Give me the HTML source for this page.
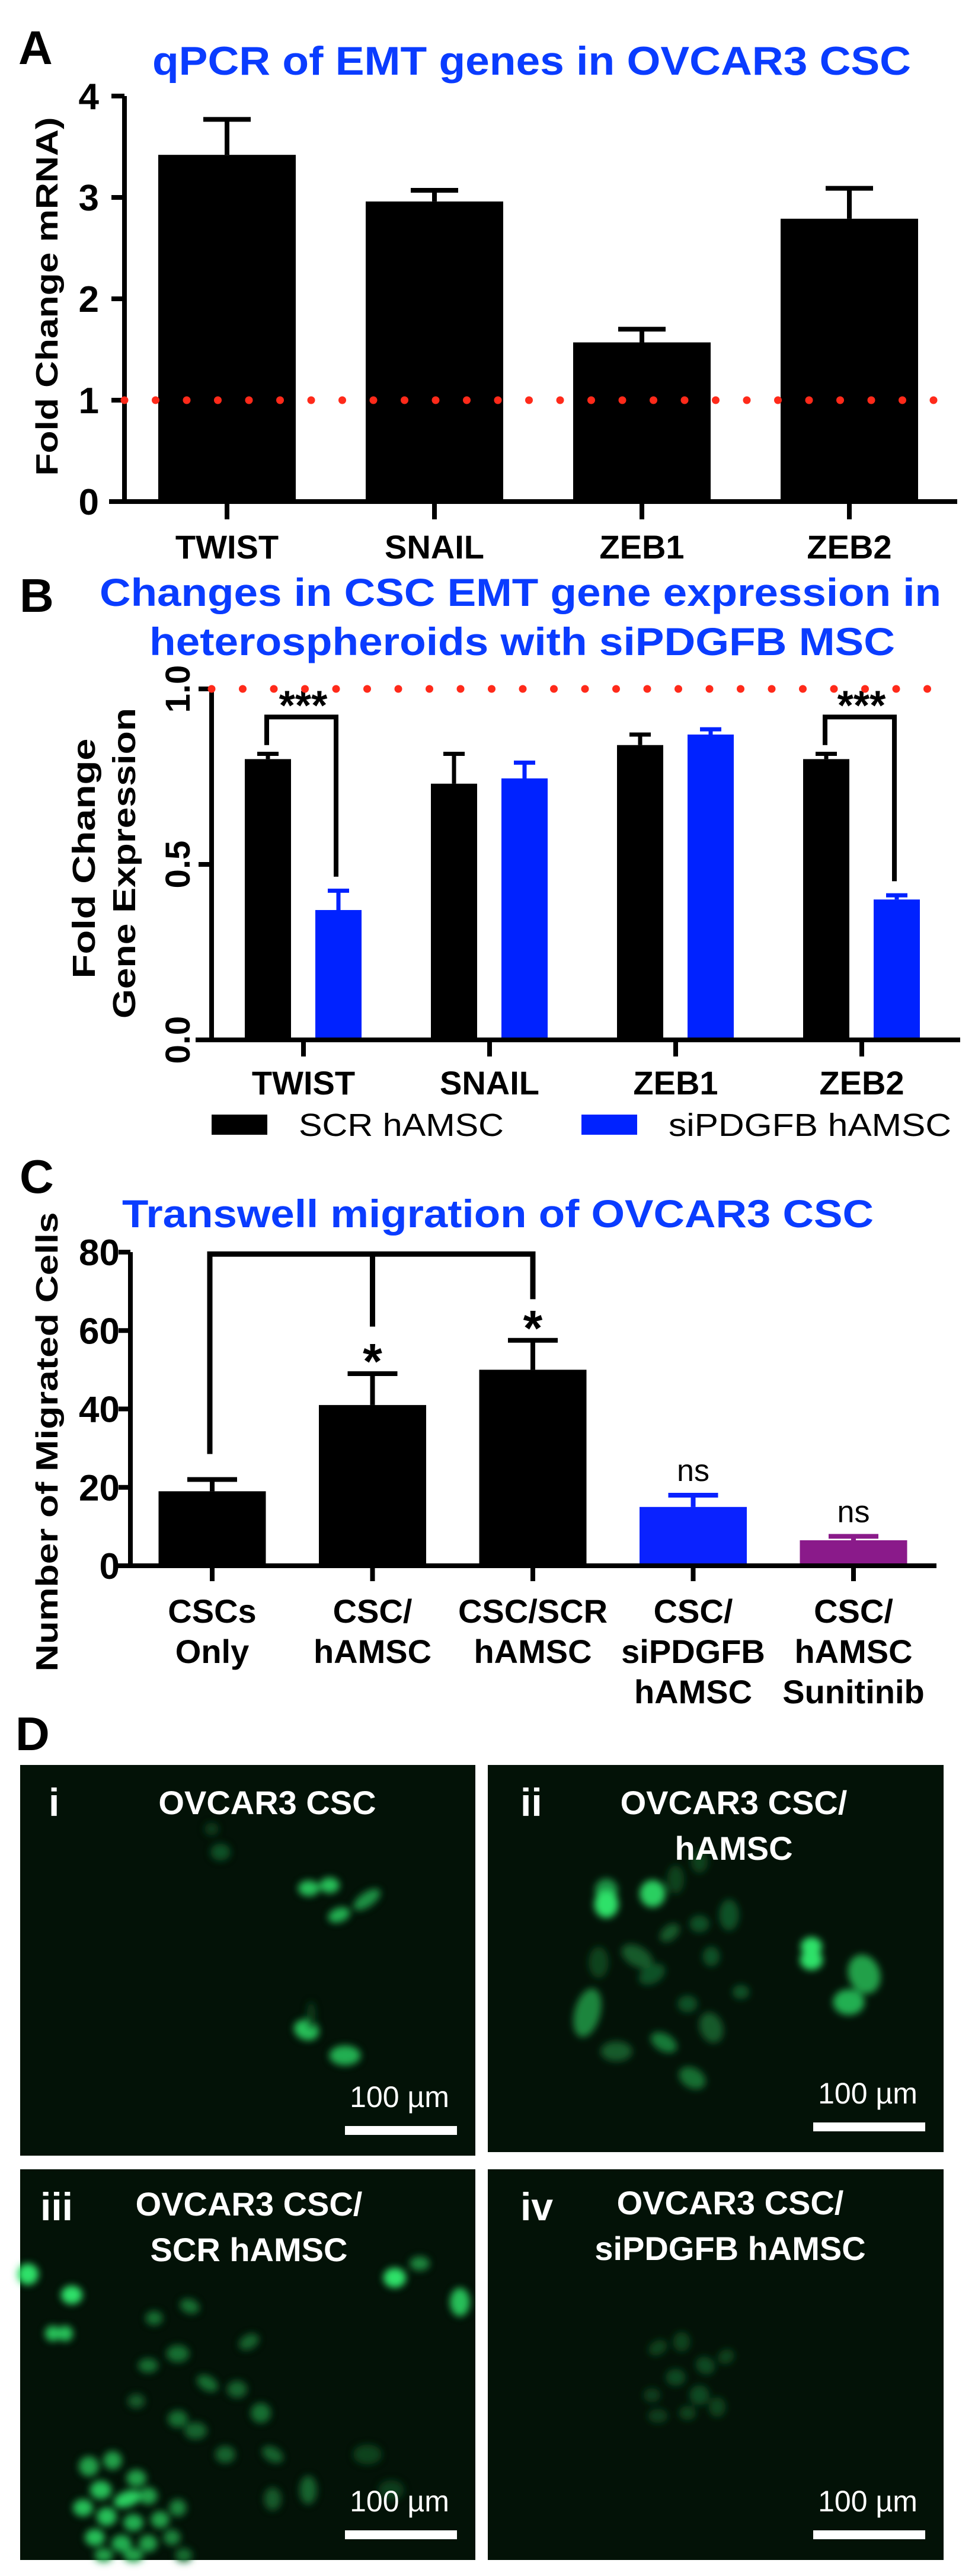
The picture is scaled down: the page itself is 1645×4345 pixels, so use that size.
<!DOCTYPE html>
<html><head><meta charset="utf-8"><style>
html,body{margin:0;padding:0;background:#fff}
svg{display:block}
text{font-family:"Liberation Sans",Arial,sans-serif}
</style></head><body>
<svg id="fig" width="1645" height="4345" viewBox="0 0 1645 4345" xmlns="http://www.w3.org/2000/svg">
<defs>
<filter id="blur" x="-50%" y="-50%" width="200%" height="200%"><feGaussianBlur stdDeviation="6"/></filter>
</defs>
<g id="pa"></g>
<g id="pb"></g>
<g id="pc"></g>
<g id="pd"></g>
</svg>
<script>
// ---------- Panel A data ----------
const aCats = ["TWIST","SNAIL","ZEB1","ZEB2"];
const aVals = [3.42, 2.96, 1.57, 2.79];
const aErr = [0.35, 0.11, 0.13, 0.30];
const aTicks = [0,1,2,3,4];
// ---------- Panel B data ----------
const bCats = ["TWIST","SNAIL","ZEB1","ZEB2"];
const bScr = [0.80, 0.73, 0.84, 0.80];
const bScrErr = [0.015, 0.085, 0.03, 0.015];
const bSi = [0.37, 0.745, 0.87, 0.40];
const bSiErr = [0.055, 0.045, 0.015, 0.012];
const bTicks = [0.0, 0.5, 1.0];
const bTickLabels = ["0.0","0.5","1.0"];
// ---------- Panel C data ----------
const cCats = [["CSCs","Only"],["CSC/","hAMSC"],["CSC/SCR","hAMSC"],["CSC/","siPDGFB","hAMSC"],["CSC/","hAMSC","Sunitinib"]];
const cVals = [19, 41, 50, 15, 6.5];
const cErr = [3, 8, 7.5, 3, 1];
const cColors = ["#000","#000","#000","#0a22ff","#8a1a8a"];
const cTicks = [0,20,40,60,80];
const cSig = ["", "*", "*", "ns", "ns"];

const NS = "http://www.w3.org/2000/svg";
function mk(parent, tag, attrs, txt){
  const e = document.createElementNS(NS, tag);
  for (const k in attrs) e.setAttribute(k, attrs[k]);
  if (txt !== undefined) e.textContent = txt;
  parent.appendChild(e);
  return e;
}
const BLUE = "#0a3cff";

// ================= PANEL A =================
(function(){
  const g = document.getElementById('pa');
  const x0 = 210, x1 = 1615, yTop = 162, yBot = 846, vMax = 4;
  const y = v => yBot - (v / vMax) * (yBot - yTop);
  const cx = i => 383 + i * 350;
  const bw = 232;
  let t;
  t = mk(g,'text',{x:31,y:108,'font-size':80,'font-weight':'bold'},'A');
   
  t = mk(g,'text',{x:897,y:126,'font-size':68,'font-weight':'bold',fill:BLUE,'text-anchor':'middle',textLength:1280,lengthAdjust:'spacingAndGlyphs'},'qPCR of EMT genes in OVCAR3 CSC');
   
  t = mk(g,'text',{x:0,y:0,'font-size':52,'font-weight':'bold','text-anchor':'middle',transform:'translate(97,500) rotate(-90)',textLength:605,lengthAdjust:'spacingAndGlyphs'},'Fold Change mRNA)');
   
  aVals.forEach((v,i)=>{
    const c = cx(i);
    const r = mk(g,'rect',{x:c-bw/2,y:y(v),width:bw,height:yBot-y(v),fill:'#000'});
     
    const e = mk(g,'path',{d:`M${c},${y(v)} V${y(v+aErr[i])} M${c-40},${y(v+aErr[i])} H${c+40}`,stroke:'#000','stroke-width':8,fill:'none'});
     
    const tk = mk(g,'line',{x1:c,x2:c,y1:yBot,y2:yBot+30,stroke:'#000','stroke-width':8});
     
    const l = mk(g,'text',{x:c,y:942,'font-size':56,'font-weight':'bold','text-anchor':'middle'},aCats[i]);
     
  });
  const ax = mk(g,'path',{d:`M${x0},${yTop} V${yBot} M184,${yBot} H${x1}`,stroke:'#000','stroke-width':8,fill:'none'});
   
  aTicks.forEach(v=>{
    const tk = mk(g,'line',{x1:x0-22,x2:x0,y1:y(v),y2:y(v),stroke:'#000','stroke-width':8});
     
    const l = mk(g,'text',{x:167,y:y(v)+22,'font-size':62,'font-weight':'bold','text-anchor':'end'},String(v));
     
  });
  const ref = mk(g,'line',{x1:x0,x2:1590,y1:y(1),y2:y(1),stroke:'#ff2a1a','stroke-width':13,'stroke-linecap':'round','stroke-dasharray':'0 52.5'});
   
})();

// ================= PANEL B =================
(function(){
  const g = document.getElementById('pb');
  const x0 = 357, x1 = 1620, yBot = 1754, unit = 592;
  const y = v => yBot - v * unit;
  const cx = i => 512 + i * 314;
  const bw = 78;
  let t;
  t = mk(g,'text',{x:33,y:1032,'font-size':80,'font-weight':'bold'},'B');
   
  t = mk(g,'text',{x:878,y:1022,'font-size':66,'font-weight':'bold',fill:BLUE,'text-anchor':'middle',textLength:1420,lengthAdjust:'spacingAndGlyphs'},'Changes in CSC EMT gene expression in');
   
  t = mk(g,'text',{x:881,y:1105,'font-size':66,'font-weight':'bold',fill:BLUE,'text-anchor':'middle',textLength:1258,lengthAdjust:'spacingAndGlyphs'},'heterospheroids with siPDGFB MSC');
   
  t = mk(g,'text',{x:0,y:0,'font-size':54,'font-weight':'bold','text-anchor':'middle',transform:'translate(160,1448) rotate(-90)',textLength:405,lengthAdjust:'spacingAndGlyphs'},'Fold Change');
   
  t = mk(g,'text',{x:0,y:0,'font-size':54,'font-weight':'bold','text-anchor':'middle',transform:'translate(228,1456) rotate(-90)',textLength:524,lengthAdjust:'spacingAndGlyphs'},'Gene Expression');
   
  bCats.forEach((c0,i)=>{
    const c = cx(i);
    const bx = c - 60, sx = c + 59;
    let r = mk(g,'rect',{x:bx-bw/2,y:y(bScr[i]),width:bw,height:yBot-y(bScr[i]),fill:'#000'});
     
    let e = mk(g,'path',{d:`M${bx},${y(bScr[i])} V${y(bScr[i]+bScrErr[i])} M${bx-18},${y(bScr[i]+bScrErr[i])} H${bx+18}`,stroke:'#000','stroke-width':7,fill:'none'});
     
    r = mk(g,'rect',{x:sx-bw/2,y:y(bSi[i]),width:bw,height:yBot-y(bSi[i]),fill:'#0022ff'});
     
    e = mk(g,'path',{d:`M${sx},${y(bSi[i])} V${y(bSi[i]+bSiErr[i])} M${sx-18},${y(bSi[i]+bSiErr[i])} H${sx+18}`,stroke:'#0022ff','stroke-width':7,fill:'none'});
     
    const tk = mk(g,'line',{x1:c,x2:c,y1:yBot,y2:yBot+28,stroke:'#000','stroke-width':8});
     
    const l = mk(g,'text',{x:c,y:1846,'font-size':56,'font-weight':'bold','text-anchor':'middle'},c0);
     
    if (i === 0 || i === 3) {
      const top = y(0.92);
      const b = mk(g,'path',{d:`M${bx-2},${y(bScr[i]+bScrErr[i]+0.025)} V${top} H${sx-4} V${y(bSi[i]+bSiErr[i]+0.04)}`,stroke:'#000','stroke-width':8,fill:'none'});
       
      const s = mk(g,'text',{x:(bx+sx)/2,y:top+4,'font-size':70,'font-weight':'bold','text-anchor':'middle'},'***');
       
    }
  });
  const ax = mk(g,'path',{d:`M${x0},${y(1)} V${yBot} M330,${yBot} H${x1}`,stroke:'#000','stroke-width':8,fill:'none'});
   
  bTicks.forEach((v,i)=>{
    const tk = mk(g,'line',{x1:x0-22,x2:x0,y1:y(v),y2:y(v),stroke:'#000','stroke-width':8});
     
    const l = mk(g,'text',{x:0,y:0,'font-size':58,'font-weight':'bold','text-anchor':'middle',transform:`translate(320,${y(v)}) rotate(-90)`},bTickLabels[i]);
     
  });
  const ref = mk(g,'line',{x1:x0,x2:1588,y1:y(1),y2:y(1),stroke:'#ff2a1a','stroke-width':13,'stroke-linecap':'round','stroke-dasharray':'0 52.5'});
   
  let s = mk(g,'rect',{x:357,y:1880,width:94,height:34,fill:'#000'});
   
  s = mk(g,'text',{x:504,y:1916,'font-size':54,textLength:346,lengthAdjust:'spacingAndGlyphs'},'SCR hAMSC');
   
  s = mk(g,'rect',{x:981,y:1880,width:94,height:34,fill:'#0022ff'});
   
  s = mk(g,'text',{x:1128,y:1916,'font-size':54,textLength:477,lengthAdjust:'spacingAndGlyphs'},'siPDGFB hAMSC');
   
})();

// ================= PANEL C =================
(function(){
  const g = document.getElementById('pc');
  const x0 = 220, x1 = 1580, yTop = 2112, yBot = 2641, vMax = 80;
  const y = v => yBot - (v / vMax) * (yBot - yTop);
  const cx = i => 358 + i * 270.5;
  const bw = 181;
  let t;
  t = mk(g,'text',{x:33,y:2012,'font-size':80,'font-weight':'bold'},'C');
   
  t = mk(g,'text',{x:840,y:2070,'font-size':66,'font-weight':'bold',fill:BLUE,'text-anchor':'middle',textLength:1268,lengthAdjust:'spacingAndGlyphs'},'Transwell migration of OVCAR3 CSC');
   
  t = mk(g,'text',{x:0,y:0,'font-size':52,'font-weight':'bold','text-anchor':'middle',transform:'translate(97,2432) rotate(-90)',textLength:775,lengthAdjust:'spacingAndGlyphs'},'Number of Migrated Cells');
   
  cVals.forEach((v,i)=>{
    const c = cx(i);
    const r = mk(g,'rect',{x:c-bw/2,y:y(v),width:bw,height:yBot-y(v),fill:cColors[i]});
     
    const e = mk(g,'path',{d:`M${c},${y(v)} V${y(v+cErr[i])} M${c-42},${y(v+cErr[i])} H${c+42}`,stroke:cColors[i],'stroke-width':8,fill:'none'});
     
    const tk = mk(g,'line',{x1:c,x2:c,y1:yBot,y2:yBot+26,stroke:'#000','stroke-width':8});
     
    cCats[i].forEach((line,j)=>{
      const l = mk(g,'text',{x:c,y:2737+j*68,'font-size':56,'font-weight':'bold','text-anchor':'middle'},line);
       
    });
    if (cSig[i] === '*') {
      const s = mk(g,'text',{x:c,y:y(v+cErr[i])+8,'font-size':84,'font-weight':'bold','text-anchor':'middle'},'*');
       
    } else if (cSig[i] === 'ns') {
      const s = mk(g,'text',{x:c,y:y(v+cErr[i])-24,'font-size':52,'text-anchor':'middle'},'ns');
       
    }
  });
  const topY = y(79.5);
  const br = mk(g,'path',{d:`M${cx(0)-4},${y(28.5)} V${topY} H${cx(2)} V${y(68)} M${cx(1)},${topY} V${y(61)}`,stroke:'#000','stroke-width':9,fill:'none'});
   
  const ax = mk(g,'path',{d:`M${x0},${yTop} V${yBot} M196,${yBot} H${x1}`,stroke:'#000','stroke-width':8,fill:'none'});
   
  cTicks.forEach(v=>{
    const tk = mk(g,'line',{x1:x0-20,x2:x0,y1:y(v),y2:y(v),stroke:'#000','stroke-width':8});
     
    const l = mk(g,'text',{x:202,y:y(v)+22,'font-size':62,'font-weight':'bold','text-anchor':'end'},String(v));
     
  });
})();

// ================= PANEL D =================
const imgPanels = [
  {x:34,y:2977,w:768,h:659,tag:"i",lines:["OVCAR3 CSC"],tx:451,ty:3060},
  {x:823,y:2977,w:769,h:653,tag:"ii",lines:["OVCAR3 CSC/","hAMSC"],tx:1238,ty:3060},
  {x:34,y:3659,w:768,h:659,tag:"iii",lines:["OVCAR3 CSC/","SCR hAMSC"],tx:420,ty:3737},
  {x:823,y:3659,w:769,h:659,tag:"iv",lines:["OVCAR3 CSC/","siPDGFB hAMSC"],tx:1232,ty:3735}
];
// cells: [panel, cx, cy, rx, ry, rotation, brightness]
const cells = [
 [0,372,3124,14,12,0,0.45],[0,357,3085,10,9,0,0.3],[0,521,3185,15,11,0,0.9],[0,556,3180,14,11,0,0.9],[0,572,3230,16,10,-20,0.85],[0,619,3204,22,10,-35,0.75],[0,517,3424,18,14,20,0.9],[0,582,3467,22,14,0,0.85],[0,525,3400,6,20,0,0.3],
 [1,1023,3188,16,16,0,0.75],[1,1023,3212,17,19,0,1],[1,1101,3194,18,19,0,0.95],[1,1369,3283,15,13,0,1],[1,1369,3306,16,14,0,1],[1,1458,3330,22,28,-20,0.8],[1,1432,3377,22,18,0,0.85],[1,991,3395,18,35,15,0.7],[1,1130,3260,16,10,-40,0.5],[1,1180,3245,14,12,0,0.45],[1,1100,3330,20,13,-30,0.45],[1,1160,3380,14,12,0,0.45],[1,1200,3300,12,14,0,0.45],[1,1230,3230,14,22,0,0.45],[1,1075,3300,24,14,30,0.5],[1,1040,3460,22,14,0,0.5],[1,1120,3445,20,12,30,0.65],[1,1168,3505,20,14,30,0.6],[1,1200,3420,16,22,-20,0.5],[1,1250,3360,12,10,0,0.45],[1,1010,3310,14,22,0,0.35],[1,1140,3170,12,20,0,0.35],[1,1180,3140,12,16,0,0.35],
 [2,47,3836,15,15,0,1],[2,121,3871,15,13,0,1],[2,89,3936,11,11,0,0.9],[2,110,3936,11,11,0,0.9],[2,666,3842,16,14,0,1],[2,776,3883,14,20,0,0.9],[2,708,3818,14,10,0,0.7],
 [2,260,3910,12,10,0,0.6],[2,320,3890,14,10,20,0.6],[2,420,3950,15,10,-30,0.55],[2,300,3970,16,12,0,0.6],[2,250,3990,14,10,0,0.6],[2,350,4020,16,10,30,0.6],[2,400,4030,14,12,0,0.55],[2,440,4070,14,14,0,0.6],[2,330,4100,16,12,0,0.55],[2,380,4140,14,12,0,0.55],[2,460,4140,16,10,30,0.55],[2,520,4200,12,20,0,0.55],[2,460,4215,12,16,0,0.5],[2,300,4080,14,12,0,0.6],[2,230,4050,12,10,0,0.5],[2,620,4140,20,14,0,0.35],[2,660,4200,18,14,0,0.3],
 [2,150,4160,14,14,0,0.8],[2,190,4150,13,13,0,0.8],[2,230,4180,14,12,0,0.8],[2,170,4200,15,13,0,0.9],[2,215,4215,20,11,-20,0.95],[2,250,4210,13,12,0,0.8],[2,140,4230,14,12,0,0.9],[2,180,4245,14,13,0,0.9],[2,225,4255,14,12,0,0.85],[2,270,4250,13,12,0,0.8],[2,300,4230,12,12,0,0.7],[2,160,4280,14,12,0,0.9],[2,205,4290,14,12,0,0.85],[2,250,4290,13,12,0,0.8],[2,290,4280,12,11,0,0.7],[2,225,4310,14,10,0,0.8],[2,175,4310,13,10,0,0.8],[2,310,4310,12,10,0,0.6],
 [3,1110,3960,14,10,-30,0.35],[3,1150,3950,12,14,0,0.35],[3,1190,3990,14,12,30,0.4],[3,1140,4010,14,12,0,0.4],[3,1100,4040,12,10,0,0.3],[3,1225,3975,12,10,-30,0.35],[3,1180,4040,14,14,0,0.4],[3,1210,4060,12,14,0,0.35],[3,1110,4075,14,10,0,0.3],[3,1160,4070,12,10,0,0.35]
];
(function(){
  const g = document.getElementById('pd');
  let t = mk(g,'text',{x:26,y:2952,'font-size':80,'font-weight':'bold'},'D');
   
  imgPanels.forEach((p,i)=>{
    const pg = mk(g,'g',{});
     
    const bg = mk(pg,'rect',{x:p.x,y:p.y,width:p.w,height:p.h,fill:'#031207'});
     
    const cg = mk(pg,'g',{filter:'url(#blur)'});
     
    cells.filter(c=>c[0]===i).forEach(c=>{
      const b = c[6], b2 = b*b;
      const col = `rgb(${Math.round(10+35*b2)},${Math.round(45+180*b2)},${Math.round(20+85*b2)})`;
      const e = mk(cg,'ellipse',{cx:c[1],cy:c[2],rx:c[3]*1.2,ry:c[4]*1.2,fill:col,transform:`rotate(${c[5]} ${c[1]} ${c[2]})`});
       
    });
    const lab = mk(pg,'text',{x:p.x+(p.tag.length>2?34:(p.tag.length>1?55:48)),y:p.y+86,'font-size':66,'font-weight':'bold',fill:'#fff'},p.tag);
     
    p.lines.forEach((ln,j)=>{
      const tt = mk(pg,'text',{x:p.tx,y:p.ty+j*77,'font-size':56,'font-weight':'bold',fill:'#fff','text-anchor':'middle'},ln);
       
    });
    const sx = p.x + p.w - 220;
    const sbT = mk(pg,'text',{x:sx+92,y:p.y+p.h-82,'font-size':50,fill:'#fff','text-anchor':'middle'},'100 µm');
     
    const sb = mk(pg,'rect',{x:sx,y:p.y+p.h-50,width:189,height:15,fill:'#fff'});
     
  });
})();
</script>
</body></html>
